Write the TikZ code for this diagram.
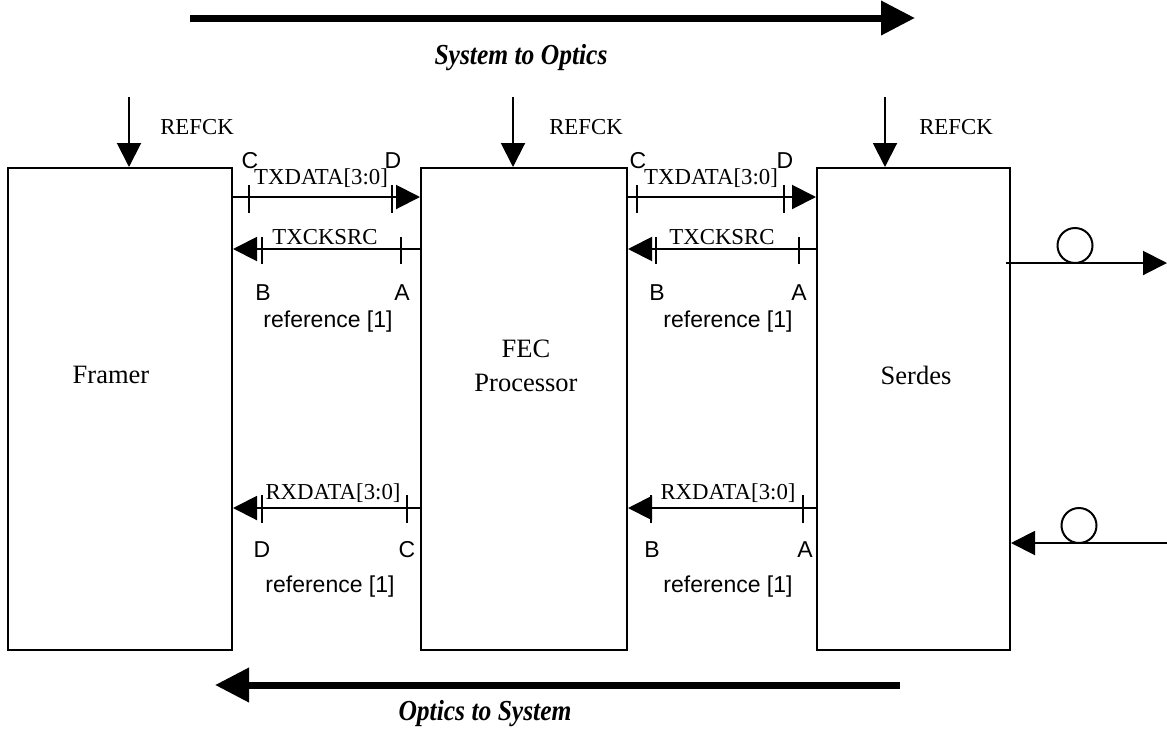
\documentclass[tikz,border=0pt]{standalone}
\usepackage{fontspec}
\setmainfont{Liberation Serif}
\newfontfamily\arialf{Liberation Sans}
\usetikzlibrary{arrows.meta}
\begin{document}
\begin{tikzpicture}[x=1pt,y=-1pt,
  blk/.style={draw, line width=2pt, minimum height=482pt, inner sep=0pt},
  sig/.style={line width=2pt, -{Triangle[length=24pt,width=24pt]}},
  bigarrow/.style={line width=7pt, -{Triangle[length=34pt,width=33pt]}},
  tick/.style={line width=2pt},
  serif/.style={font=\fontsize{22.8}{24}\selectfont, inner sep=0pt},
  sans/.style={font=\arialf\fontsize{23}{26}\selectfont, inner sep=0pt},
  boxlabel/.style={font=\fontsize{26.5}{34}\selectfont, align=center, inner sep=0pt},
  dirlabel/.style={font=\bfseries\itshape\fontsize{29}{32}\selectfont, inner sep=0pt, xscale=0.88},
  fiber/.style={draw, circle, line width=2pt, minimum size=35pt, inner sep=0pt}]
\useasboundingbox[fill=white] (0,0) rectangle (1167,729);

% direction arrows
\coordinate (topA) at (190,18);
\coordinate (topB) at (915,18);
\draw[bigarrow] (topA) -- (topB);
\node[dirlabel] (s2o) at (521,58) {System to Optics};
\coordinate (botA) at (900,685);
\coordinate (botB) at (215,685);
\draw[bigarrow] (botA) -- (botB);
\node[dirlabel] (o2s) at (485,714) {Optics to System};

% blocks
\node[blk, minimum width=224pt] (framer) at (120,409) {};
\node[blk, minimum width=206pt] (fec) at (524,409) {};
\node[blk, minimum width=193pt] (serdes) at (913.5,409) {};
\node[boxlabel] (framerL) at (111,375) {Framer};
\node[boxlabel] (fecL) at (526,366) {FEC\\Processor};
\node[boxlabel] (serdesL) at (916,375) {Serdes};

% REFCK
\coordinate (rk1) at (129,97);
\coordinate (rk2) at (513,97);
\coordinate (rk3) at (885,97);
\draw[sig] (rk1) -- (framer.north -| rk1);
\draw[sig] (rk2) -- (fec.north -| rk2);
\draw[sig] (rk3) -- (serdes.north -| rk3);
\node[serif] (rkL1) at (197,127) {REFCK};
\node[serif] (rkL2) at (586,127) {REFCK};
\node[serif] (rkL3) at (956,127) {REFCK};

% rows
\coordinate (ytx) at (0,197);
\coordinate (yck) at (0,249);
\coordinate (yrx) at (0,508);

% Framer <-> FEC
\draw[sig] (framer.east |- ytx) -- (fec.west |- ytx);
\draw[sig] (fec.west |- yck) -- (framer.east |- yck);
\draw[sig] (fec.west |- yrx) -- (framer.east |- yrx);
% FEC <-> Serdes
\draw[sig] (fec.east |- ytx) -- (serdes.west |- ytx);
\draw[sig] (serdes.west |- yck) -- (fec.east |- yck);
\draw[sig] (serdes.west |- yrx) -- (fec.east |- yrx);

% ticks
\foreach \x in {249,392,637,784} \draw[tick] (\x,185) -- (\x,213);
\foreach \x in {262,401,656,799} \draw[tick] (\x,237) -- (\x,264);
\foreach \x in {262,407,651,803} \draw[tick] (\x,495) -- (\x,523);

% signal labels
\node[serif] (txd1) at (321,178) {TXDATA[3:0]};
\node[serif] (txd2) at (711,178) {TXDATA[3:0]};
\node[serif] (txc1) at (325,237) {TXCKSRC};
\node[serif] (txc2) at (722,237) {TXCKSRC};
\node[serif] (rxd1) at (333,493) {RXDATA[3:0]};
\node[serif] (rxd2) at (728,493) {RXDATA[3:0]};

% point letters
\node[sans] (c1) at (250,161) {C};
\node[sans] (d1) at (393,161) {D};
\node[sans] (c2) at (638,161) {C};
\node[sans] (d2) at (785,161) {D};
\node[sans] (b1) at (263,293) {B};
\node[sans] (a1) at (402,293) {A};
\node[sans] (b2) at (657,293) {B};
\node[sans] (a2) at (799,293) {A};
\node[sans] (d3) at (262,550) {D};
\node[sans] (c3) at (407,550) {C};
\node[sans] (b3) at (652,550) {B};
\node[sans] (a3) at (805,550) {A};
\node[sans] (ref1) at (328,322) {reference [1]};
\node[sans] (ref2) at (728,322) {reference [1]};
\node[sans] (ref3) at (330,587) {reference [1]};
\node[sans] (ref4) at (728,587) {reference [1]};

% optical
\coordinate (outE) at (1167,263);
\coordinate (inE) at (1167,543);
\draw[sig] (serdes.east |- outE) ++(-5,0) -- (outE);
\draw[sig] (inE) -- (serdes.east |- inE);
\node[fiber] (f1) at (1075,245.5) {};
\node[fiber] (f2) at (1079,525.5) {};
\end{tikzpicture}
\end{document}
